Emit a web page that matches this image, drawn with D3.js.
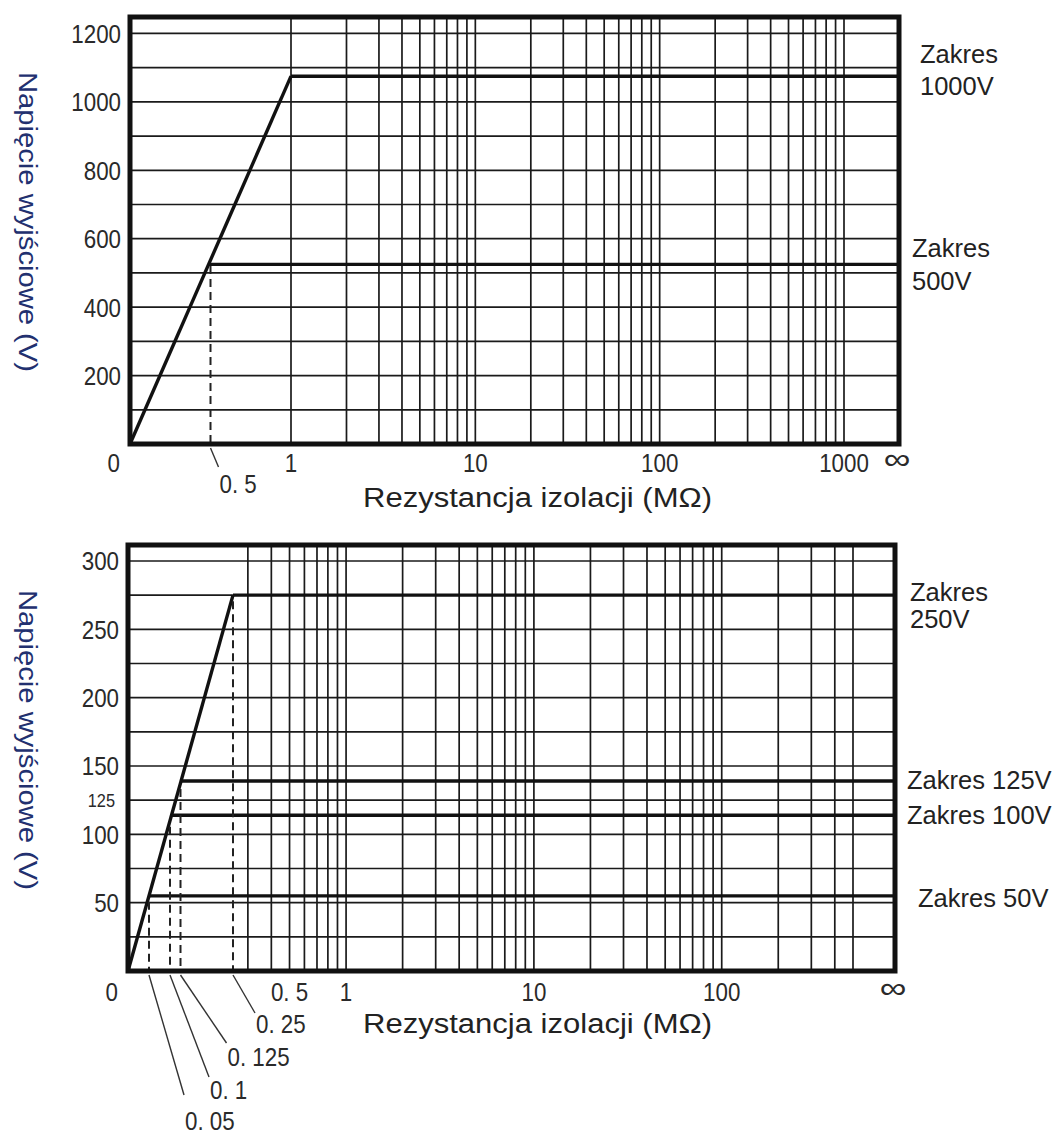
<!DOCTYPE html>
<html>
<head>
<meta charset="utf-8">
<script src="https://cdn.jsdelivr.net/npm/d3@7"></script>
<style>
body { margin: 0; background: #fff; }
text { font-family: "Liberation Sans", Arial, sans-serif; fill: #222; }
.num { font-family: "Liberation Sans", Arial, sans-serif; fill: #2a2a2a; }
</style>
</head>
<body>
<svg></svg>
<script>
// ---- top chart: 1000V / 500V ranges ----
var topYTicks = [0, 200, 400, 600, 800, 1000, 1200];
var topYGrid = [100, 200, 300, 400, 500, 600, 700, 800, 900, 1000, 1100, 1200];
var topXTicks = [0, 1, 10, 100, 1000, Infinity];
var topXTickLabels = ['0', '1', '10', '100', '1000', '∞'];
var topRangeNames = ['1000V', '500V'];
var topRangeVolts = [1075, 525];
var topRampEnd = [1, 1075];          // MΩ, V
var topKnees = [0.5];
var topKneeLabels = ['0. 5'];

// ---- bottom chart: 250V / 125V / 100V / 50V ranges ----
var botYTicks = [0, 50, 100, 150, 200, 250, 300];
var botYSmallTicks = [125];
var botYGrid = [25, 50, 75, 100, 125, 150, 175, 200, 225, 250, 275, 300];
var botXTicks = [0, 0.5, 1, 10, 100, Infinity];
var botXTickLabels = ['0', '0. 5', '1', '10', '100', '∞'];
var botRangeNames = ['250V', '125V', '100V', '50V'];
var botRangeVolts = [275, 139, 114, 55];
var botRampEnd = [0.25, 275];
var botKnees = [0.25, 0.125, 0.1, 0.05];
var botKneeLabels = ['0. 25', '0. 125', '0. 1', '0. 05'];

var yTitle = 'Napięcie wyjściowe (V)';
var xTitle = 'Rezystancja izolacji  (MΩ)';

var narrow = 0.86;   // condensed look of the digits

var svg = d3.select('svg').attr('width', 1059).attr('height', 1135);

drawChart({
  left: 130, right: 899, top: 17, bottom: 444,
  split: 1, logMax: 1000, xSplit: 291, xLogEnd: 844, vMax: 1248,
  yTicks: topYTicks, ySmall: [], yGrid: topYGrid,
  xTicks: topXTicks, xTickLabels: topXTickLabels, xTickDy: 28,
  rangeNames: topRangeNames, rangeVolts: topRangeVolts,
  rangeLayout: [{x: 920, dy: [-13, 19]}, {x: 912, dy: [-7, 26]}],
  rampEnd: topRampEnd, knees: topKnees, kneeLabels: topKneeLabels,
  leaders: [{dx: 8, dy: 23, ly: 49}],
  yTitleTop: 72, xTitleY: 507
});

drawChart({
  left: 128, right: 895, top: 545, bottom: 971,
  split: 0.25, logMax: 500, xSplit: 233, xLogEnd: 853, vMax: 311.7,
  yTicks: botYTicks, ySmall: botYSmallTicks, yGrid: botYGrid,
  xTicks: botXTicks, xTickLabels: botXTickLabels, xTickDy: 30,
  rangeNames: botRangeNames, rangeVolts: botRangeVolts,
  rangeLayout: [{x: 910, dy: [6, 33]}, {x: 907, dy: [8]}, {x: 907, dy: [9]}, {x: 918, dy: [11]}],
  rampEnd: botRampEnd, knees: botKnees, kneeLabels: botKneeLabels,
  leaders: [{dx: 22, dy: 42, ly: 62}, {dx: 46, dy: 72, ly: 95}, {dx: 39, dy: 106, ly: 128}, {dx: 35, dy: 124, ly: 159}],
  yTitleTop: 590, xTitleY: 1033
});

function place(x, y, sx) {
  return 'translate(' + [x, y] + ') scale(' + (sx || narrow) + ',1)';
}

function drawChart(c) {
  var g = svg.append('g');

  var xLin = d3.scaleLinear().domain([0, c.split]).range([c.left, c.xSplit]);
  var xLog = d3.scaleLog().domain([c.split, c.logMax]).range([c.xSplit, c.xLogEnd]);
  var x = v => v === Infinity ? c.right : (v <= c.split ? xLin(v) : xLog(v));
  var y = d3.scaleLinear().domain([0, c.vMax]).range([c.bottom, c.top]);

  // horizontal grid
  g.selectAll('.hgrid').data(c.yGrid).join('line')
    .attr('x1', c.left).attr('x2', c.right)
    .attr('y1', d => y(d)).attr('y2', d => y(d))
    .attr('stroke', '#1a1a1a').attr('stroke-width', 1.7);

  // vertical log grid
  var vg = xLog.ticks().filter(d => d >= c.split && d <= c.logMax);
  g.selectAll('.vgrid').data(vg).join('line')
    .attr('x1', d => xLog(d)).attr('x2', d => xLog(d))
    .attr('y1', c.top).attr('y2', c.bottom)
    .attr('stroke', '#1a1a1a').attr('stroke-width', 1.7);

  // ramp
  var slope = c.rampEnd[1] / c.rampEnd[0];
  g.append('line')
    .attr('x1', x(0)).attr('y1', y(0))
    .attr('x2', x(c.rampEnd[0])).attr('y2', y(c.rampEnd[1]))
    .attr('stroke', '#111').attr('stroke-width', 3.4);

  // range lines, starting on the ramp
  g.selectAll('.range').data(c.rangeVolts).join('line')
    .attr('x1', d => x(d / slope)).attr('x2', c.right)
    .attr('y1', d => y(d)).attr('y2', d => y(d))
    .attr('stroke', '#111').attr('stroke-width', 3.4);

  // dashed knee markers
  g.selectAll('.knee').data(c.knees).join('line')
    .attr('x1', d => x(d)).attr('x2', d => x(d))
    .attr('y1', d => y(d * slope) + 6).attr('y2', c.bottom)
    .attr('stroke', '#222').attr('stroke-width', 2)
    .attr('stroke-dasharray', '8,5');

  // leaders + knee labels
  c.knees.forEach(function(k, i) {
    var L = c.leaders[i];
    var x0 = x(k), y0 = c.bottom + 4;
    g.append('line')
      .attr('x1', x0).attr('y1', y0)
      .attr('x2', x0 + L.dx).attr('y2', c.bottom + L.dy)
      .attr('stroke', '#333').attr('stroke-width', 1.4);
    g.append('text').attr('class', 'num')
      .attr('transform', place(x0 + L.dx + 1, c.bottom + L.ly))
      .attr('font-size', 26)
      .text(c.kneeLabels[i]);
  });

  // frame
  g.append('rect')
    .attr('x', c.left).attr('y', c.top)
    .attr('width', c.right - c.left).attr('height', c.bottom - c.top)
    .attr('fill', 'none').attr('stroke', '#111').attr('stroke-width', 5);

  // y tick labels
  g.selectAll('.ytick').data(c.yTicks.filter(d => d > 0)).join('text')
    .attr('class', 'num')
    .attr('transform', d => place(c.left - 9, y(d)))
    .attr('dy', '0.36em')
    .attr('text-anchor', 'end').attr('font-size', 26)
    .text(d => d);
  g.selectAll('.ysmall').data(c.ySmall).join('text')
    .attr('class', 'num')
    .attr('transform', d => place(c.left - 13, y(d)))
    .attr('dy', '0.36em')
    .attr('text-anchor', 'end').attr('font-size', 19)
    .text(d => d);

  // x tick labels (∞ drawn wider, as in the print)
  g.selectAll('.xtick').data(c.xTicks).join('text')
    .attr('class', 'num')
    .attr('transform', d => d === Infinity
      ? place(c.right - 2, c.bottom + c.xTickDy - 3, 1.25)
      : place(d === 0 ? x(0) - 10 : x(d), c.bottom + c.xTickDy))
    .attr('text-anchor', d => d === 0 ? 'end' : 'middle')
    .attr('font-size', d => d === Infinity ? 30 : 26)
    .text((d, i) => c.xTickLabels[i]);

  // range labels
  c.rangeNames.forEach(function(n, i) {
    var R = c.rangeLayout[i], yy = y(c.rangeVolts[i]);
    var lines = R.dy.length > 1 ? ['Zakres', n] : ['Zakres ' + n];
    lines.forEach(function(t, j) {
      g.append('text')
        .attr('x', R.x).attr('y', yy + R.dy[j])
        .attr('font-size', 25.5)
        .text(t);
    });
  });

  // axis titles
  g.append('text')
    .attr('transform', 'translate(19,' + c.yTitleTop + ') rotate(90)')
    .attr('font-size', 26)
    .attr('textLength', 300).attr('lengthAdjust', 'spacingAndGlyphs')
    .style('fill', '#22306f')
    .text(yTitle);
  g.append('text')
    .attr('x', 363).attr('y', c.xTitleY)
    .attr('font-size', 27)
    .attr('textLength', 349).attr('lengthAdjust', 'spacingAndGlyphs')
    .text(xTitle);
}
</script>
</body>
</html>
